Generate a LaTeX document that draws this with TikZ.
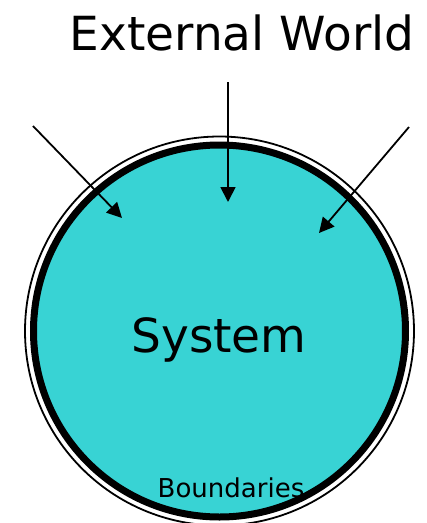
\documentclass[tikz,border=0pt]{standalone}
\usepackage{fontspec}
\setmainfont{DejaVu Sans}
\usetikzlibrary{arrows.meta}
\definecolor{sysfill}{HTML}{38D3D4}
\tikzset{
  bigtext/.style={font=\fontsize{47}{56}\selectfont, inner sep=0pt},
  smalltext/.style={font=\fontsize{26}{31}\selectfont, inner sep=0pt},
  sysbox/.style={circle, fill=sysfill, draw=black, line width=7pt, minimum size=372pt, inner sep=0pt},
  ring/.style={circle, draw=black, line width=1.8pt, minimum size=389pt, inner sep=0pt},
  flow/.style={-{Triangle[length=15pt,width=15pt]}, line width=1.8pt},
}
\begin{document}
\begin{tikzpicture}[x=1pt,y=-1pt]
\useasboundingbox (0,0) rectangle (427,523);
% boundary: thin outer ring and thick inner edge
\node[ring] (outer) at (219.5,331) {};
\node[sysbox] (sys) at (219.5,331) {};
\node[bigtext, anchor=base] (sysname) at (219,352) {System};
\node[smalltext, anchor=base] (bound) at (231,497) {Boundaries};
\node[bigtext, anchor=base] (world) at (242,50) {External World};
% inputs from the outside
\coordinate (srcL) at (33,126);
\coordinate (srcM) at (228,82);
\coordinate (srcR) at (409,127);
\coordinate (dstL) at (122,218);
\coordinate (dstM) at (228,202);
\coordinate (dstR) at (319,233);
\draw[flow] (srcL) -- (dstL);
\draw[flow] (srcM) -- (dstM);
\draw[flow] (srcR) -- (dstR);
\end{tikzpicture}
\end{document}
